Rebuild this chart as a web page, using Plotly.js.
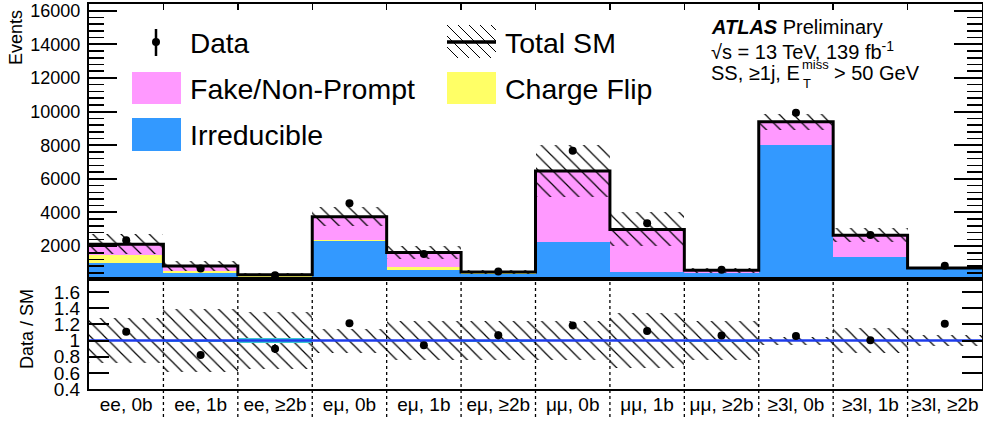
<!DOCTYPE html>
<html>
<head>
<meta charset="utf-8">
<script src="https://cdn.plot.ly/plotly-3.0.1.min.js"></script>
<style>
  html, body { margin: 0; padding: 0; background: #fff; }
  #chart { width: 983px; height: 421px; }
</style>
</head>
<body>
<div id="chart"></div>
<script>
// Signal-region yields: same-sign dilepton / trilepton channels
const categories = ['ee, 0b', 'ee, 1b', 'ee, ≥2b', 'eμ, 0b', 'eμ, 1b', 'eμ, ≥2b',
                    'μμ, 0b', 'μμ, 1b', 'μμ, ≥2b', '≥3l, 0b', '≥3l, 1b', '≥3l, ≥2b'];

// Background components (events)
const irreducible   = [970, 400, 170, 2310, 570, 330, 2220, 470, 375, 8000, 1320, 680];
const chargeFlip    = [490, 130, 60, 80, 160, 40, 0, 0, 0, 0, 0, 0];
const fakeNonPrompt = [650, 280, 70, 1350, 890, 90, 4240, 2520, 185, 1393, 1330, 10];

// Total SM uncertainty (events, symmetric)
const totalUnc = [590, 315, 105, 560, 390, 110, 1560, 1010, 137, 470, 410, 48];

// Observed data and its statistical uncertainty
const dataObs     = [2340, 665, 270, 4550, 1525, 490, 7670, 3350, 595, 9930, 2660, 835];
const dataStatErr = [48, 26, 16, 67, 39, 22, 88, 58, 24, 100, 52, 29];

// Relative MC statistical uncertainty shown around unity in the ratio
const mcStatRel = [0.004, 0.012, 0.03, 0.004, 0.01, 0.012, 0.008, 0.01, 0.012, 0.004, 0.006, 0.006];

// ---- derived quantities ----
const idx = categories.map((_, i) => i);
const totalSM = idx.map(i => irreducible[i] + chargeFlip[i] + fakeNonPrompt[i]);
const baseCF = idx.map(i => irreducible[i]);
const baseFake = idx.map(i => irreducible[i] + chargeFlip[i]);
const ratio = idx.map(i => dataObs[i] / totalSM[i]);
const ratioErr = idx.map(i => dataStatErr[i] / totalSM[i]);
const relUnc = idx.map(i => totalUnc[i] / totalSM[i]);

// step outline helper: each bin spans [i-0.5, i+0.5]
function stepXY(vals) {
  const xs = [], ys = [];
  vals.forEach((v, i) => { xs.push(i - 0.5, i + 0.5); ys.push(v, v); });
  return { x: xs, y: ys };
}
const totalStep = stepXY(totalSM);
const unityStep = stepXY(idx.map(() => 1));

const COL_IRR = 'rgb(51,153,255)';
const COL_CF = 'rgb(255,255,102)';
const COL_FAKE = 'rgb(255,153,255)';
const FONT = 'Liberation Sans, Arial, Helvetica, sans-serif';

const hatch = { shape: '\\', fgcolor: 'black', size: 10, solidity: 0.12, fillmode: 'replace' };

const traces = [
  { type: 'bar', x: idx, y: irreducible, base: 0, width: 1, xaxis: 'x', yaxis: 'y',
    marker: { color: COL_IRR, line: { width: 0 } }, hoverinfo: 'skip', showlegend: false },
  { type: 'bar', x: idx, y: chargeFlip, base: baseCF, width: 1, xaxis: 'x', yaxis: 'y',
    marker: { color: COL_CF, line: { width: 0 } }, hoverinfo: 'skip', showlegend: false },
  { type: 'bar', x: idx, y: fakeNonPrompt, base: baseFake, width: 1, xaxis: 'x', yaxis: 'y',
    marker: { color: COL_FAKE, line: { width: 0 } }, hoverinfo: 'skip', showlegend: false },
  // total SM uncertainty band
  { type: 'bar', x: idx, y: totalUnc.map(u => 2 * u), base: idx.map(i => totalSM[i] - totalUnc[i]),
    width: 1, xaxis: 'x', yaxis: 'y',
    marker: { color: 'rgba(0,0,0,0)', line: { width: 0 }, pattern: hatch },
    hoverinfo: 'skip', showlegend: false },
  // total SM outline
  { type: 'scatter', mode: 'lines', x: totalStep.x, y: totalStep.y, xaxis: 'x', yaxis: 'y',
    line: { color: 'black', width: 3 }, hoverinfo: 'skip', showlegend: false },
  // data
  { type: 'scatter', mode: 'markers', x: idx, y: dataObs, xaxis: 'x', yaxis: 'y',
    marker: { color: 'black', size: 8 },
    error_y: { type: 'data', array: dataStatErr, color: 'black', thickness: 2, width: 0 },
    hoverinfo: 'skip', showlegend: false },

  // ratio panel: relative uncertainty band
  { type: 'bar', x: idx, y: relUnc.map(r => 2 * r), base: relUnc.map(r => 1 - r), width: 1,
    xaxis: 'x2', yaxis: 'y2',
    marker: { color: 'rgba(0,0,0,0)', line: { width: 0 }, pattern: hatch },
    hoverinfo: 'skip', showlegend: false },
  { type: 'bar', x: idx, y: mcStatRel.map(r => 2 * r), base: mcStatRel.map(r => 1 - r), width: 1,
    xaxis: 'x2', yaxis: 'y2',
    marker: { color: 'rgb(60,200,210)', line: { width: 0 } }, hoverinfo: 'skip', showlegend: false },
  { type: 'scatter', mode: 'lines', x: unityStep.x, y: unityStep.y, xaxis: 'x2', yaxis: 'y2',
    line: { color: 'rgb(30,60,235)', width: 2.5 }, hoverinfo: 'skip', showlegend: false },
  { type: 'scatter', mode: 'markers', x: idx, y: ratio, xaxis: 'x2', yaxis: 'y2',
    marker: { color: 'black', size: 8 },
    error_y: { type: 'data', array: ratioErr, color: 'black', thickness: 2, width: 0 },
    hoverinfo: 'skip', showlegend: false }
];

// ---- layout geometry (pixels -> paper) ----
const W = 983, H = 421;
const M = { l: 89, r: 1, t: 4, b: 32 };
const PW = W - M.l - M.r, PH = H - M.t - M.b;
const px = X => (X - M.l) / PW;
const py = Y => (H - M.b - Y) / PH;
const split = py(278.5);

const edges = idx.slice(0, -1).map(i => i + 0.5);

const shapes = [];
// dotted bin separators in the ratio panel and label row
edges.forEach(e => shapes.push({
  type: 'line', xref: 'x2', yref: 'paper', x0: e, x1: e, y0: py(417), y1: split,
  line: { color: 'black', width: 1.3, dash: 'dot' }, layer: 'above'
}));

// legend swatches
function rectPx(x0, y0, x1, y1, color) {
  shapes.push({ type: 'rect', xref: 'paper', yref: 'paper',
    x0: px(x0), x1: px(x1), y0: py(y1), y1: py(y0),
    fillcolor: color, line: { width: 0 } });
}
function hatchPx(x0, y0, x1, y1, step) {
  const h = y1 - y0;
  for (let c = x0 - h; c < x1; c += step) {
    const tmin = Math.max(0, x0 - c), tmax = Math.min(h, x1 - c);
    if (tmax <= tmin) continue;
    shapes.push({ type: 'line', xref: 'paper', yref: 'paper',
      x0: px(c + tmin), y0: py(y0 + tmin), x1: px(c + tmax), y1: py(y0 + tmax),
      line: { color: 'black', width: 1 } });
  }
}
rectPx(132, 72, 181, 104, COL_FAKE);
rectPx(132, 118, 181, 151, COL_IRR);
rectPx(447, 72, 496, 104, COL_CF);
hatchPx(447, 25, 496, 58, 11);
shapes.push({ type: 'line', xref: 'paper', yref: 'paper',
  x0: px(447), x1: px(496), y0: py(42), y1: py(42), line: { color: 'black', width: 3.5 } });
// data marker in legend
shapes.push({ type: 'line', xref: 'paper', yref: 'paper',
  x0: px(156), x1: px(156), y0: py(56), y1: py(29), line: { color: 'black', width: 2.5 } });
shapes.push({ type: 'circle', xref: 'paper', yref: 'paper',
  x0: px(152), x1: px(160), y0: py(46), y1: py(38), fillcolor: 'black', line: { width: 0 } });

function textPx(X, Y, text, size, extra) {
  return Object.assign({ xref: 'paper', yref: 'paper', x: px(X), y: py(Y), text: text,
    showarrow: false, xanchor: 'left', yanchor: 'middle',
    font: { family: FONT, size: size, color: 'black' } }, extra || {});
}

const annotations = [
  textPx(188, 43, 'Data', 28),
  textPx(188, 89, 'Fake/Non-Prompt', 28.5),
  textPx(188, 135, 'Irreducible', 28.5),
  textPx(503, 43, 'Total SM', 28.5),
  textPx(503, 89, 'Charge Flip', 28.5),
  textPx(709, 27, '<b><i>ATLAS</i></b> Preliminary', 20),
  textPx(709, 50, '√s = 13 TeV, 139 fb<sup>-1</sup>', 20),
  textPx(709, 73, 'SS, ≥1j, E', 20),
  textPx(800, 64, 'miss', 13),
  textPx(801, 84, 'T', 13),
  textPx(832, 73, '> 50 GeV', 20),
  textPx(16, 38, 'Events', 18, { xanchor: 'center', textangle: -90 }),
  textPx(27, 329, 'Data / SM', 18, { xanchor: 'center', textangle: -90 })
];

const axisBase = { showgrid: false, zeroline: false, showline: true, linecolor: 'black',
  linewidth: 2, tickcolor: 'black', fixedrange: true };

const layout = {
  width: W, height: H,
  margin: M,
  paper_bgcolor: 'white', plot_bgcolor: 'white',
  font: { family: FONT, color: 'black' },
  barmode: 'overlay', bargap: 0,
  showlegend: false,
  xaxis: Object.assign({}, axisBase, {
    domain: [0, 1], range: [-0.5, 11.5], anchor: 'y', side: 'top', mirror: true,
    tickmode: 'array', tickvals: edges, ticks: 'inside', ticklen: 6, tickwidth: 1.5,
    showticklabels: false
  }),
  yaxis: Object.assign({}, axisBase, {
    domain: [split, 1], range: [70, 16400], anchor: 'x',
    tick0: 0, dtick: 2000, ticks: 'inside', ticklen: 28, tickwidth: 2,
    minor: { dtick: 400, ticks: 'inside', ticklen: 15, tickwidth: 1.5, tickcolor: 'black', showgrid: false },
    mirror: 'allticks', tickformat: 'd',
    tickfont: { family: FONT, size: 18 }, ticklabelstandoff: 3
  }),
  xaxis2: Object.assign({}, axisBase, {
    domain: [0, 1], range: [-0.5, 11.5], anchor: 'y2', mirror: true,
    tickmode: 'array', tickvals: idx, ticktext: categories, ticks: '',
    tickfont: { family: FONT, size: 19 }, ticklabelstandoff: -3
  }),
  yaxis2: Object.assign({}, axisBase, {
    domain: [0, split], range: [0.4, 1.77], anchor: 'x2',
    tick0: 0.4, dtick: 0.2, ticks: 'inside', ticklen: 20, tickwidth: 2,
    mirror: 'allticks', tickfont: { family: FONT, size: 19 }, ticklabelstandoff: 3
  }),
  shapes: shapes,
  annotations: annotations
};

Plotly.newPlot('chart', traces, layout, { staticPlot: true, displayModeBar: false });
</script>
</body>
</html>
